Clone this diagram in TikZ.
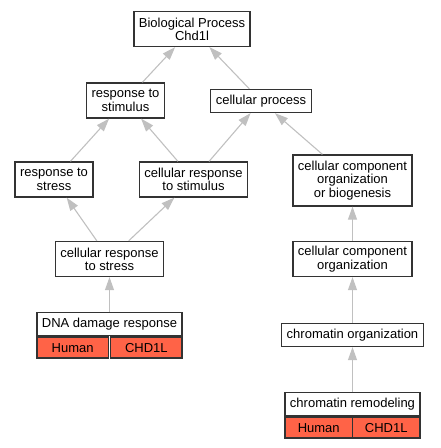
\documentclass[tikz,border=0pt]{standalone}
\usepackage{fontspec}
\setmainfont{Liberation Sans}
\usetikzlibrary{positioning,arrows.meta}
\definecolor{linkgray}{HTML}{C0C0C0}
\definecolor{hitred}{HTML}{FF6347}
\definecolor{boxline}{HTML}{333333}

\begin{document}
\begin{tikzpicture}[x=1pt,y=-1pt]
\useasboundingbox (0,0) rectangle (440,448);
% Draw GO graph
   \begin{scope}[ on grid,>={Triangle[length=13pt,width=9pt]},
                   font=\fontsize{13}{13.3}\selectfont,
                   term/.style={rectangle,draw=boxline,line width=1.3pt,fill=white,align=center,
                                inner xsep=5pt,inner ysep=2pt,minimum height=23pt},
                   term2/.style={term,minimum height=35pt},
                   term3/.style={term,minimum height=51pt},
                   gene/.style={rectangle,draw=boxline,line width=1.3pt,fill=hitred,
                                inner sep=0pt,minimum height=21pt},
                   link/.style={->,draw=linkgray,line width=1.1pt} ]
     \node [term2] (main)     at (192,29)                        {Biological Process\\Chd1l};
     \node [term2] (stim)     [below left=71.5pt and 66.5pt of main]   {response to\\stimulus} edge [link] (main);
     \node [term]  (cproc)    [below right=72pt and 69pt of main]      {cellular process} edge [link] (main);
     \node [term2] (stress)   [below left=79pt and 71.5pt of stim]     {response to\\stress} edge [link] (stim);
     \node [term2] (cstim)    [below right=79pt and 68pt of stim]      {cellular response\\to stimulus} edge [link] (stim);
     \draw (cstim) edge [link] (cproc);
     \node [term3] (ccob)     [below right=79.5pt and 91.5pt of cproc] {cellular component\\organization\\or biogenesis} edge [link] (cproc);
     \node [term2] (cstress)  [below right=79.5pt and 55.5pt of stress] {cellular response\\to stress} edge [link] (stress);
     \draw (cstress) edge [link] (cstim);
     \node [term2] (cco)      [below=78.5pt of ccob]                  {cellular component\\organization} edge [link] (ccob);
     \node [term]  (dna)      [below=65.3pt of cstress,minimum width=143pt] {DNA damage response} edge [link] (cstress);
     \node [gene,minimum width=71.5pt,anchor=north west] (dnah) at (dna.south west) {Human};
     \node [gene,minimum width=71.5pt,anchor=north east] (dnag) at (dna.south east) {CHD1L};
     \node [term]  (corg)     [below=76pt of cco]                     {chromatin organization} edge [link] (cco);
     \node [term]  (crem)     [below=69.3pt of corg,minimum width=135pt] {chromatin remodeling} edge [link] (corg);
     \node [gene,minimum width=67.5pt,anchor=north west] (cremh) at (crem.south west) {Human};
     \node [gene,minimum width=67.5pt,anchor=north east] (cremg) at (crem.south east) {CHD1L};
   \end{scope}
\end{tikzpicture}
\end{document}
